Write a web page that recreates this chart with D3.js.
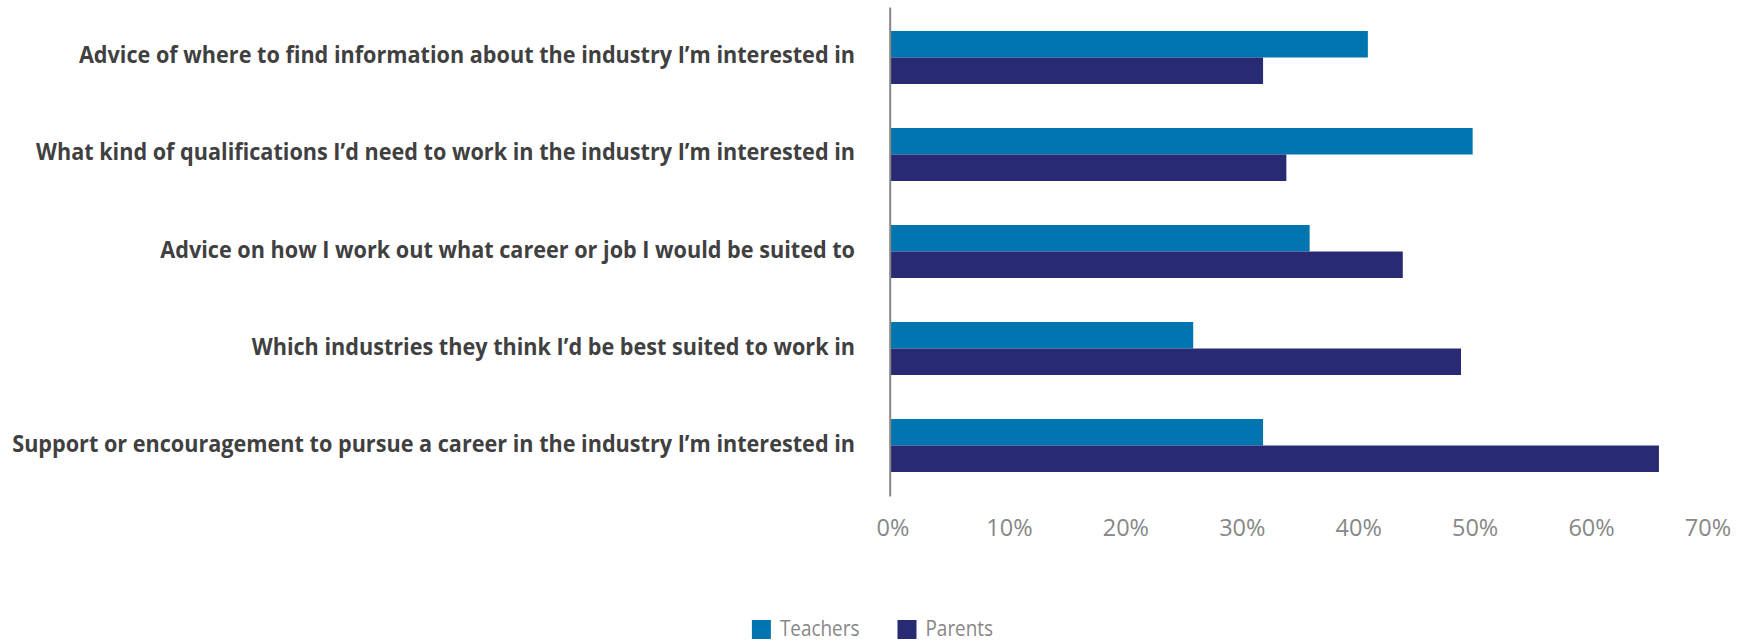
<!DOCTYPE html>
<html>
<head>
<meta charset="utf-8">
<script src="https://cdn.jsdelivr.net/npm/d3@7"></script>
<style>
  html, body { margin: 0; padding: 0; background: #ffffff; }
  svg { display: block; }
</style>
</head>
<body>
<svg id="chart" width="1745" height="642"></svg>
<script>
// Survey answers, top to bottom
const categories = [
  "Advice of where to find information about the industry I\u2019m interested in",
  "What kind of qualifications I\u2019d need to work in the industry I\u2019m interested in",
  "Advice on how I work out what career or job I would be suited to",
  "Which industries they think I\u2019d be best suited to work in",
  "Support or encouragement to pursue a career in the industry I\u2019m interested in"
];
const seriesNames = ["Teachers", "Parents"];
const teachers = [41, 50, 36, 26, 32];
const parents  = [32, 34, 44, 49, 66];
const tickValues = [0, 10, 20, 30, 40, 50, 60, 70];

const colors = { Teachers: "#0075b0", Parents: "#282a74" };

const W = 1745, H = 642;
const svg = d3.select("#chart");

const x = d3.scaleLinear().domain([0, 70]).range([890.5, 1705.5]);
const y = d3.scaleBand()
  .domain(categories)
  .range([7, 496])
  .paddingInner(0.4536)
  .paddingOuter(0.2474);
const sub = d3.scaleBand().domain(seriesNames).range([0, y.bandwidth()]);

const rows = categories.map((c, i) => ({
  category: c,
  values: [
    { series: "Teachers", value: teachers[i] },
    { series: "Parents", value: parents[i] }
  ]
}));

// Bars
const groups = svg.append("g").selectAll("g")
  .data(rows)
  .join("g")
  .attr("transform", d => `translate(0,${y(d.category)})`);

groups.selectAll("rect")
  .data(d => d.values)
  .join("rect")
  .attr("x", x(0))
  .attr("y", d => sub(d.series))
  .attr("width", d => x(d.value) - x(0))
  .attr("height", sub.bandwidth())
  .attr("fill", d => colors[d.series]);

// Vertical category axis line
const yAxis = svg.append("g")
  .attr("transform", "translate(889.7,0)")
  .call(d3.axisLeft(y).tickSize(0).tickSizeOuter(0).tickFormat(""));
yAxis.select(".domain").attr("stroke", "#868686").attr("stroke-width", 2);
yAxis.selectAll(".tick").remove();

// Percentage axis (labels only)
const xAxis = svg.append("g")
  .attr("transform", "translate(0,518)")
  .call(d3.axisBottom(x).tickValues(tickValues).tickFormat(d => d + "%").tickSize(0).tickPadding(0));
xAxis.select(".domain").remove();
xAxis.selectAll("text")
  .attr("y", 18)
  .attr("dy", 0)
  .attr("dx", 2)
  .attr("fill", "#878787")
  .style("font-family", "'Open Sans', 'Noto Sans', sans-serif")
  .style("font-size", "23.5px");

// Category labels, bold and condensed to fit the left column
const labelRight = 855;
const labels = svg.append("g").selectAll("g")
  .data(categories)
  .join("g");
const labelText = labels.append("text")
  .attr("text-anchor", "end")
  .attr("fill", "#404040")
  .style("font-family", "'Open Sans', 'Noto Sans', sans-serif")
  .style("font-weight", 700)
  .style("font-size", "23.5px")
  .text(d => d);

const widest = d3.max(labelText.nodes(), n => n.getComputedTextLength());
const condense = (labelRight - 12) / widest;
labels.attr("transform", d => `translate(${labelRight},${y(d) + y.bandwidth() / 2 + 6}) scale(${condense},1)`);

// Legend, centred under the chart
const legendCondense = 0.88;
const items = svg.append("g").selectAll("g")
  .data(seriesNames)
  .join("g");
items.append("rect")
  .attr("x", 0)
  .attr("y", 620)
  .attr("width", 19)
  .attr("height", 19)
  .attr("fill", d => colors[d]);
const legendText = items.append("text")
  .attr("fill", "#878787")
  .style("font-family", "'Open Sans', 'Noto Sans', sans-serif")
  .style("font-size", "21.5px")
  .attr("transform", `translate(28,635.5) scale(${legendCondense},1)`)
  .text(d => d);

const itemWidths = legendText.nodes().map(n => 28 + n.getComputedTextLength() * legendCondense);
const gap = 38;
const total = d3.sum(itemWidths) + gap * (itemWidths.length - 1);
let cursor = W / 2 - total / 2;
items.attr("transform", (d, i) => {
  const t = `translate(${cursor},0)`;
  cursor += itemWidths[i] + gap;
  return t;
});
</script>
</body>
</html>
